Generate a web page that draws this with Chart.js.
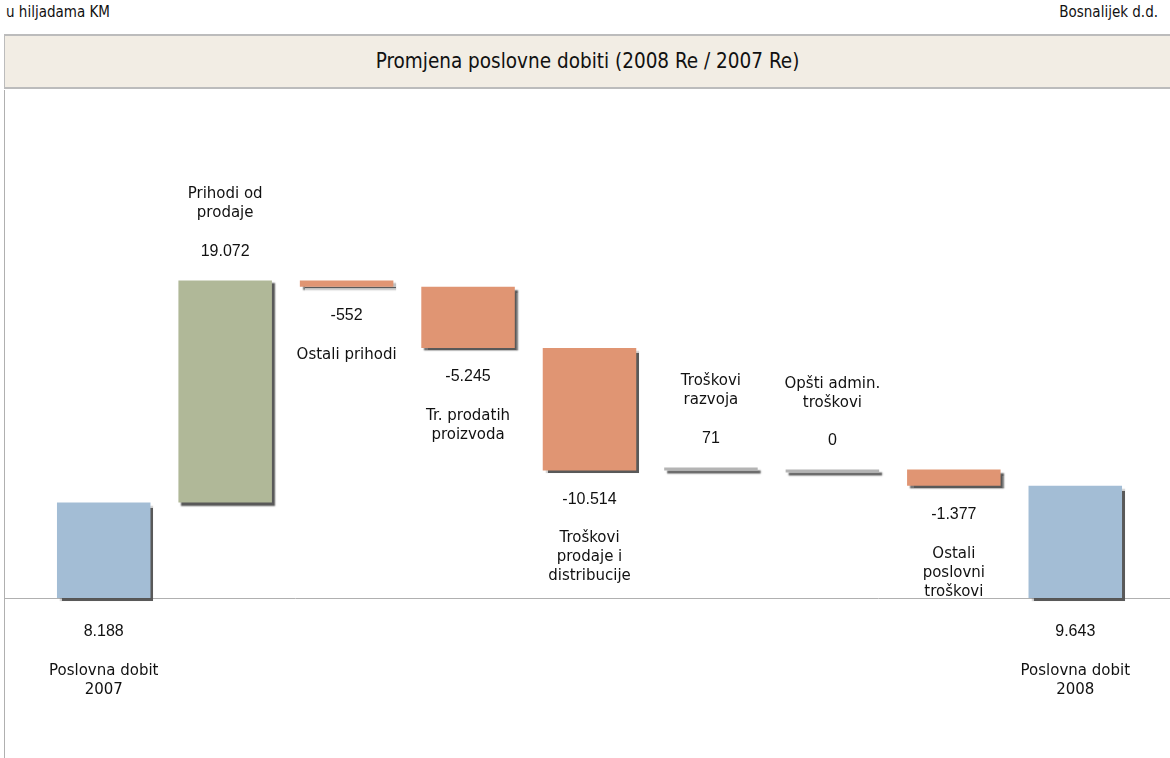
<!DOCTYPE html>
<html>
<head>
<meta charset="utf-8">
<script src="https://cdn.jsdelivr.net/npm/chart.js@4"></script>
<style>
  body { margin: 0; width: 1170px; height: 758px; background: #fff; position: relative; overflow: hidden; }
  .hdr { position: absolute; top: 3px; font: 15px "DejaVu Sans Condensed", "Liberation Sans", sans-serif; color: #111; }
  #band { position: absolute; left: 4px; top: 34px; width: 1166px; height: 55px; background: #f2ede4;
          border-top: 2px solid #bcbcbc; border-bottom: 2px solid #bcbcbc; border-left: 1px solid #bcbcbc; box-sizing: border-box;
          font: 20.5px "DejaVu Sans Condensed", "Liberation Sans", sans-serif; color: #111; text-align: center; line-height: 51px; }
  #wrap { position: absolute; left: 0; top: 90px; }
</style>
</head>
<body>
<div class="hdr" style="left:6px">u hiljadama KM</div>
<div class="hdr" style="right:12px">Bosnalijek d.d.</div>
<div id="band">Promjena poslovne dobiti (2008 Re / 2007 Re)</div>
<div id="wrap"><canvas id="chart" width="1170" height="668"></canvas></div>
<script>
// ================= PODACI =================
const nazivi = [
  ["Poslovna dobit", "2007"],
  ["Prihodi od", "prodaje"],
  ["Ostali prihodi"],
  ["Tr. prodatih", "proizvoda"],
  ["Troškovi", "prodaje i", "distribucije"],
  ["Troškovi", "razvoja"],
  ["Opšti admin.", "troškovi"],
  ["Ostali", "poslovni", "troškovi"],
  ["Poslovna dobit", "2008"]
];
const vrijednosti = [8188, 19072, -552, -5245, -10514, 71, 0, -1377, 9643];
const vrste = ["ukupno", "promjena", "promjena", "promjena", "promjena", "promjena", "promjena", "promjena", "ukupno"];

// ================= FORMAT =================
const formatBroj = (n) => {
  const s = String(Math.abs(n)).replace(/\B(?=(\d{3})+(?!\d))/g, ".");
  return (n < 0 ? "-" : "") + s;
};

// plutajuci stupci (waterfall)
let tekuci = 0;
const stupci = vrijednosti.map((v, i) => {
  if (vrste[i] === "ukupno") {
    tekuci = v;
    return [0, v];
  }
  const od = tekuci;
  tekuci += v;
  return [od, tekuci];
});

const boje = vrijednosti.map((v, i) => {
  if (vrste[i] === "ukupno") return "#a3bdd5";
  if (Math.abs(v) < 100) return "#b4b4b4";
  return v > 0 ? "#b0b898" : "#e09573";
});

// osi (prije stupaca, bez sjene)
const osi = {
  id: "osi",
  beforeDatasetsDraw(chart) {
    const ctx = chart.ctx;
    const y0 = chart.scales.y.getPixelForValue(0);
    ctx.save();
    ctx.strokeStyle = "#b0b0b0";
    ctx.lineWidth = 1;
    ctx.beginPath();
    ctx.moveTo(4.5, 0);
    ctx.lineTo(4.5, chart.height);
    ctx.moveTo(4, Math.round(y0) + 0.5);
    ctx.lineTo(chart.width, Math.round(y0) + 0.5);
    ctx.stroke();
    ctx.restore();
  }
};

// sjena ispod stupaca
const sjena = {
  id: "sjena",
  beforeDatasetsDraw(chart) {
    const ctx = chart.ctx;
    ctx.save();
    ctx.shadowColor = "rgba(80,80,80,0.95)";
    ctx.shadowOffsetX = 3;
    ctx.shadowOffsetY = 3;
    ctx.shadowBlur = 1.5;
  },
  afterDatasetsDraw(chart) {
    chart.ctx.restore();
  }
};

// natpisi
const natpisi = {
  id: "natpisi",
  afterDatasetsDraw(chart) {
    const ctx = chart.ctx;
    const y0 = chart.scales.y.getPixelForValue(0);
    const meta = chart.getDatasetMeta(0);
    ctx.save();
    ctx.shadowColor = "transparent";
    ctx.fillStyle = "#111";
    ctx.textAlign = "center";
    ctx.textBaseline = "middle";
    const lh = 19;
    meta.data.forEach((el, i) => {
      const v = vrijednosti[i];
      const top = Math.min(el.y, el.base);
      const bot = Math.max(el.y, el.base);
      const linije = nazivi[i];
      let yv, yn;
      if (vrste[i] === "ukupno") {
        yv = y0 + 34;
        yn = y0 + 73;
      } else if (v >= 0) {
        yv = top - 29;
        yn = top - 67 - (linije.length - 1) * lh;
      } else {
        yv = bot + 29;
        yn = bot + 68;
      }
      ctx.font = "16px 'Liberation Sans', Arial, sans-serif";
      ctx.fillText(formatBroj(v), el.x, yv);
      ctx.font = "15px 'DejaVu Sans', Verdana, sans-serif";
      linije.forEach((t, k) => ctx.fillText(t, el.x, yn + k * lh));
    });
    ctx.restore();
  }
};

new Chart(document.getElementById("chart"), {
  type: "bar",
  data: {
    labels: nazivi,
    datasets: [{
      data: stupci,
      backgroundColor: boje,
      borderWidth: 0,
      minBarLength: 3,
      categoryPercentage: 1,
      barPercentage: 0.77
    }]
  },
  options: {
    responsive: false,
    animation: false,
    layout: { padding: { left: 43, right: 34, top: 0, bottom: 0 } },
    plugins: { legend: { display: false }, tooltip: { enabled: false } },
    scales: {
      x: { display: false },
      y: { display: false, min: -13730, max: 43600 }
    }
  },
  plugins: [osi, sjena, natpisi]
});
</script>
</body>
</html>
